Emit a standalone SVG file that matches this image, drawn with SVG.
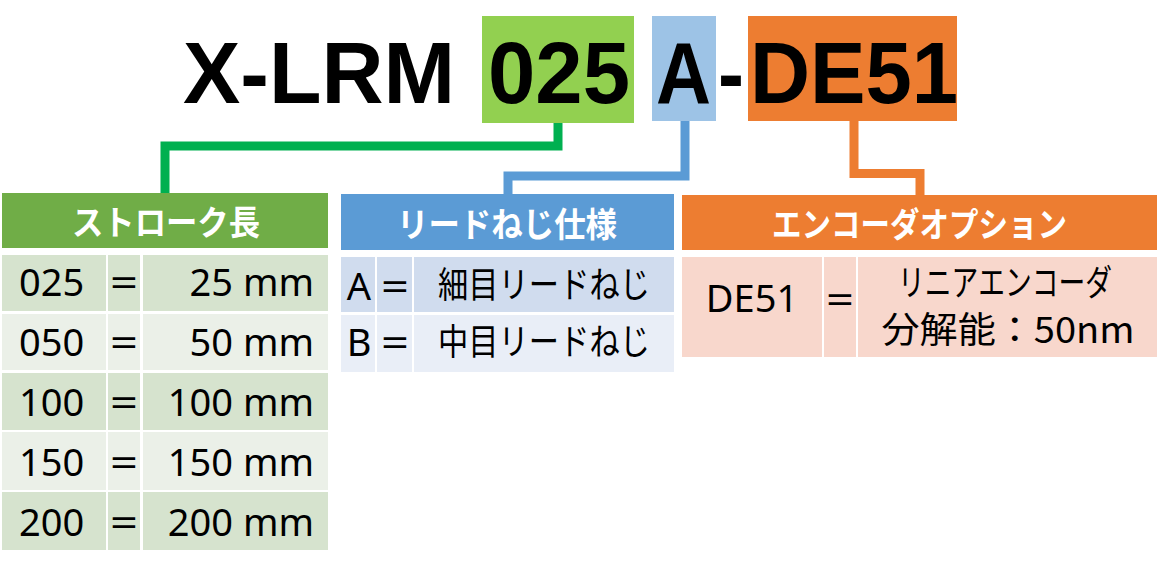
<svg xmlns="http://www.w3.org/2000/svg" width="1162" height="567" viewBox="0 0 1162 567">
<style>
.title{font-family:"Liberation Sans",Arial,sans-serif;font-weight:bold;font-size:88px;fill:#000}
.hdr{font-family:"Noto Sans CJK JP",sans-serif;font-weight:bold;font-size:34px;fill:#fff;text-anchor:middle}
.cell{font-family:"Noto Sans","Noto Sans CJK JP",sans-serif;font-size:38px;fill:#000}
.jp{font-family:"Noto Sans CJK JP",sans-serif;font-size:36px;fill:#000;text-anchor:middle}
.mid{text-anchor:middle}
.end{text-anchor:end}
.conn{fill:none;stroke-width:9;stroke-linejoin:miter;stroke-linecap:butt}
.g1{fill:#D6E3CE}.g2{fill:#EBF0E8}
.b1{fill:#D0DCEE}.b2{fill:#E9EEF7}
.o1{fill:#F8D7CC}
</style>
<rect width="1162" height="567" fill="#fff"/>
<g id="title">
<rect x="482" y="16" width="152" height="107" fill="#92D050"/>
<rect x="652" y="16" width="64" height="105" fill="#9DC3E6"/>
<rect x="748" y="16" width="209" height="105" fill="#ED7D31"/>
<text class="title" x="183" y="103" textLength="272" lengthAdjust="spacingAndGlyphs">X-LRM</text>
<text class="title" x="488" y="103" textLength="142" lengthAdjust="spacingAndGlyphs">025</text>
<text class="title" x="656" y="103" textLength="55" lengthAdjust="spacingAndGlyphs">A</text>
<text class="title" x="718" y="103" textLength="26" lengthAdjust="spacingAndGlyphs">-</text>
<text class="title" x="750" y="103" textLength="208" lengthAdjust="spacingAndGlyphs">DE51</text>
</g>
<g id="connectors">
<path class="conn" stroke="#00B050" d="M165,193 V146 H558 V123"/>
<path class="conn" stroke="#5B9BD5" d="M508,194 V176 H685 V121"/>
<path class="conn" stroke="#ED7D31" d="M854,121 V173.5 H920 V195"/>
</g>
<g id="stroke-table">
<rect x="2" y="193" width="326" height="55" fill="#70AD47"/>
<text class="hdr" x="166" y="235" textLength="188" lengthAdjust="spacingAndGlyphs">ストローク長</text>
<g class="g1"><rect x="2" y="255" width="104" height="56"/><rect x="108" y="255" width="32" height="56"/><rect x="143" y="255" width="185" height="56"/></g>
<g class="g2"><rect x="2" y="314" width="104" height="56"/><rect x="108" y="314" width="32" height="56"/><rect x="143" y="314" width="185" height="56"/></g>
<g class="g1"><rect x="2" y="373" width="104" height="57"/><rect x="108" y="373" width="32" height="57"/><rect x="143" y="373" width="185" height="57"/></g>
<g class="g2"><rect x="2" y="432" width="104" height="58"/><rect x="108" y="432" width="32" height="58"/><rect x="143" y="432" width="185" height="58"/></g>
<g class="g1"><rect x="2" y="492" width="104" height="58"/><rect x="108" y="492" width="32" height="58"/><rect x="143" y="492" width="185" height="58"/></g>
<text class="cell" x="19" y="296">025</text><text class="cell mid" x="124" y="296" textLength="28" lengthAdjust="spacingAndGlyphs">=</text><text class="cell end" x="314" y="296">25 mm</text>
<text class="cell" x="19" y="356">050</text><text class="cell mid" x="124" y="356" textLength="28" lengthAdjust="spacingAndGlyphs">=</text><text class="cell end" x="314" y="356">50 mm</text>
<text class="cell" x="19" y="416">100</text><text class="cell mid" x="124" y="416" textLength="28" lengthAdjust="spacingAndGlyphs">=</text><text class="cell end" x="314" y="416">100 mm</text>
<text class="cell" x="19" y="476">150</text><text class="cell mid" x="124" y="476" textLength="28" lengthAdjust="spacingAndGlyphs">=</text><text class="cell end" x="314" y="476">150 mm</text>
<text class="cell" x="19" y="536">200</text><text class="cell mid" x="124" y="536" textLength="28" lengthAdjust="spacingAndGlyphs">=</text><text class="cell end" x="314" y="536">200 mm</text>
</g>
<g id="lead-table">
<rect x="341" y="194" width="333" height="56" fill="#5B9BD5"/>
<text class="hdr" x="507" y="237" textLength="220" lengthAdjust="spacingAndGlyphs">リードねじ仕様</text>
<g class="b1"><rect x="341" y="257" width="34" height="55"/><rect x="377" y="257" width="35" height="55"/><rect x="414" y="257" width="260" height="55"/></g>
<g class="b2"><rect x="341" y="315" width="34" height="57"/><rect x="377" y="315" width="35" height="57"/><rect x="414" y="315" width="260" height="57"/></g>
<text class="cell mid" x="359" y="300">A</text><text class="cell mid" x="395" y="300" textLength="28" lengthAdjust="spacingAndGlyphs">=</text>
<text class="jp" x="544" y="298" textLength="212" lengthAdjust="spacingAndGlyphs">細目リードねじ</text>
<text class="cell mid" x="359" y="356">B</text><text class="cell mid" x="395" y="356" textLength="28" lengthAdjust="spacingAndGlyphs">=</text>
<text class="jp" x="544" y="355" textLength="212" lengthAdjust="spacingAndGlyphs">中目リードねじ</text>
</g>
<g id="encoder-table">
<rect x="682" y="195" width="475" height="55" fill="#ED7D31"/>
<text class="hdr" x="919.5" y="237" textLength="295" lengthAdjust="spacingAndGlyphs">エンコーダオプション</text>
<g class="o1"><rect x="682" y="257" width="140" height="100"/><rect x="824" y="257" width="32" height="100"/><rect x="858" y="257" width="299" height="100"/></g>
<text class="cell mid" x="752" y="312">DE51</text>
<text class="cell mid" x="840" y="313" textLength="28" lengthAdjust="spacingAndGlyphs">=</text>
<text class="jp" x="1005" y="296" textLength="214" lengthAdjust="spacingAndGlyphs">リニアエンコーダ</text>
<text class="jp" x="1008" y="343" textLength="253" lengthAdjust="spacingAndGlyphs">分解能：50nm</text>
</g>
</svg>
